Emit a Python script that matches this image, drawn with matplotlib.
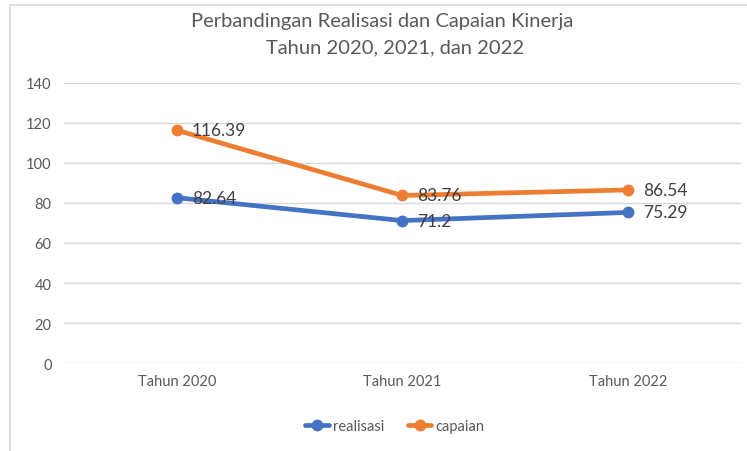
import matplotlib
matplotlib.use("Agg")
import matplotlib.pyplot as plt
from matplotlib.patches import Rectangle

plt.rcParams['font.family'] = ['Lato', 'DejaVu Sans']

categories = ["Tahun 2020", "Tahun 2021", "Tahun 2022"]
realisasi = [82.64, 71.2, 75.29]
capaian = [116.39, 83.76, 86.54]
yticks = [0, 20, 40, 60, 80, 100, 120, 140]

W, H = 747, 452
fig = plt.figure(figsize=(W / 100, H / 100), dpi=100)
fig.patch.set_facecolor("white")

# chart border
fig.add_artist(Rectangle((10 / W, -0.1), 1.2, (H - 6) / H + 0.1, transform=fig.transFigure,
                         fill=False, edgecolor="#D9D9D9", lw=1.2))

ax = fig.add_axes([64 / W, 1 - 364 / H, (740.5 - 64) / W, (364 - 84) / H])
x = list(range(len(categories)))
ax.plot(x, realisasi, color="#4472C4", lw=3.4, marker="o", markersize=7.5, label="realisasi",
        solid_capstyle="round", zorder=3)
ax.plot(x, capaian, color="#ED7D31", lw=3.4, marker="o", markersize=7.5, label="capaian",
        solid_capstyle="round", zorder=3)

for xi, v in zip(x, realisasi):
    ax.annotate(f"{v:g}", (xi, v), xytext=(11, 0), textcoords="offset points",
                ha="left", va="center", fontsize=12.5, color="#404040", zorder=4)
for xi, v in zip(x, capaian):
    ax.annotate(f"{v:g}", (xi, v), xytext=(11, 0), textcoords="offset points",
                ha="left", va="center", fontsize=12.5, color="#404040", zorder=4)

ax.set_xlim(-0.5, 2.5)
ax.set_ylim(0, 140)
ax.set_xticks(x)
ax.set_xticklabels(categories)
ax.set_yticks(yticks)
ax.tick_params(length=0, labelsize=10.5, colors="#595959")
ax.tick_params(axis="y", pad=9)
ax.tick_params(axis="x", pad=8)
ax.grid(axis="y", color="#D9D9D9", lw=1)
ax.set_axisbelow(True)
for s in ax.spines.values():
    s.set_visible(False)

fig.text(382 / W, 1 - 21 / H, "Perbandingan Realisasi dan Capaian Kinerja", ha="center", va="center",
         fontsize=14.5, color="#595959")
fig.text(395 / W, 1 - 48 / H, "Tahun 2020, 2021, dan 2022", ha="center", va="center",
         fontsize=14.5, color="#595959")

fig.legend(loc="center", bbox_to_anchor=(395 / W, 1 - 427 / H), ncol=2, frameon=False,
           fontsize=10.5, labelcolor="#595959", handlelength=1.6, handletextpad=0.3,
           columnspacing=1.6)

fig.savefig("out.png", dpi=100, facecolor="white")
